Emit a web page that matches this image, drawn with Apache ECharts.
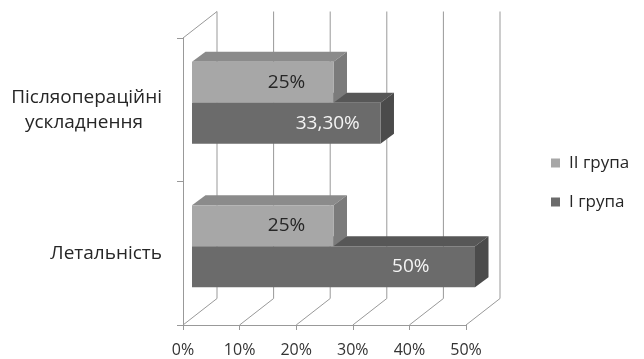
<!DOCTYPE html>
<html>
<head>
<meta charset="utf-8">
<script src="https://cdn.jsdelivr.net/npm/echarts@6/dist/echarts.min.js"></script>
<style>
  html, body { margin: 0; padding: 0; background: #fff; }
  #main { width: 644px; height: 359px; }
</style>
</head>
<body>
<div id="main"></div>
<script>
// categories top to bottom
const categories = ['Післяопераційні ускладнення', 'Летальність'];
const groupII = [25, 25];
const groupI = [33.3, 50];
const labelsII = ['25%', '25%'];
const labelsI = ['33,30%', '50%'];
const xTicks = [0, 10, 20, 30, 40, 50];

const FONT = '"Open Sans", sans-serif';
const GRID = '#999999';
// front, top, side
const LIGHT = ['#a7a7a7', '#8b8b8b', '#7b7b7b'];
const DARK = ['#6b6b6b', '#575757', '#4b4b4b'];
const DEPTH = [34, -26.5];     // back wall offset from front plane
const BAR_OFF = [9, -7];       // bar front face offset
const BAR_DEPTH = [13.5, -10]; // bar thickness

function barRenderer(upper, colors, labels, textColor) {
  return function (params, api) {
    const val = api.value(0), cat = api.value(1);
    const band = Math.abs(api.size([0, 1])[1]);
    const h = band * 0.286;
    const c0 = api.coord([0, cat]);
    const c1 = api.coord([val, cat]);
    const x0 = c0[0] + BAR_OFF[0], x1 = c1[0] + BAR_OFF[0];
    const y0 = c0[1] + BAR_OFF[1] - (upper ? h : 0);
    const y1 = y0 + h;
    const dx = BAR_DEPTH[0], dy = BAR_DEPTH[1];
    const len = x1 - x0;
    const lx = x0 + len * 0.878 - 29.7;
    return {
      type: 'group',
      children: [
        { type: 'polygon', shape: { points: [[x0, y0], [x1, y0], [x1 + dx, y0 + dy], [x0 + dx, y0 + dy]] }, style: { fill: colors[1] } },
        { type: 'polygon', shape: { points: [[x1, y0], [x1 + dx, y0 + dy], [x1 + dx, y1 + dy], [x1, y1]] }, style: { fill: colors[2] } },
        { type: 'rect', shape: { x: x0, y: y0, width: len, height: h }, style: { fill: colors[0] } },
        { type: 'text', x: lx, y: (y0 + y1) / 2, style: { text: labels[params.dataIndex], fill: textColor, font: '19px ' + FONT, textAlign: 'center', textVerticalAlign: 'middle' } }
      ]
    };
  };
}

function frameRenderer(params, api) {
  const v = api.value(0);
  const cs = params.coordSys;
  const x = api.coord([v, 0])[0];
  const top = cs.y, bottom = cs.y + cs.height;
  const children = [{
    type: 'polyline',
    shape: { points: [[x, bottom], [x + DEPTH[0], bottom + DEPTH[1]], [x + DEPTH[0], top + DEPTH[1]]] },
    style: { stroke: GRID, lineWidth: 1, fill: null }
  }];
  if (params.dataIndex === 0) {
    children.push({ type: 'line', shape: { x1: x, y1: top, x2: x + DEPTH[0], y2: top + DEPTH[1] }, style: { stroke: GRID, lineWidth: 1 } });
  }
  return { type: 'group', children: children };
}

const chart = echarts.init(document.getElementById('main'), null, { renderer: 'canvas' });
chart.setOption({
  backgroundColor: '#ffffff',
  animation: false,
  grid: { left: 183, right: 178, top: 38, bottom: 34 },
  legend: {
    orient: 'vertical', left: 546, top: 148,
    icon: 'rect', itemWidth: 9, itemHeight: 9, itemGap: 19,
    data: [
      { name: 'II група', itemStyle: { color: LIGHT[0] } },
      { name: 'I група', itemStyle: { color: DARK[0] } }
    ],
    textStyle: { fontFamily: FONT, fontSize: 17, color: '#262626', lineHeight: 20, padding: [0, 0, 0, 4] }
  },
  xAxis: {
    type: 'value', min: 0, max: 50, interval: 10,
    axisLine: { show: true, lineStyle: { color: GRID } },
    axisTick: { show: true, length: 5, lineStyle: { color: GRID } },
    splitLine: { show: false },
    axisLabel: { formatter: '{value}%', fontFamily: FONT, fontSize: 16, color: '#333', margin: 17 }
  },
  yAxis: {
    type: 'category', inverse: true, data: categories,
    axisLine: { show: true, lineStyle: { color: GRID } },
    axisTick: { show: true, length: 6, lineStyle: { color: GRID } },
    axisLabel: {
      margin: 21,
      formatter: function (v) {
        const parts = v.split(' ');
        return parts.length > 1 ? '{a|' + parts[0] + '}\n{b|' + parts[1] + '}' : '{a|' + v + '}';
      },
      rich: {
        a: { fontFamily: FONT, fontSize: 19, color: '#262626', lineHeight: 25 },
        b: { fontFamily: FONT, fontSize: 19, color: '#262626', lineHeight: 25, padding: [0, 19, 0, 0] }
      }
    }
  },
  series: [
    {
      type: 'custom', name: 'frame', silent: true, z: 1,
      renderItem: frameRenderer,
      encode: { x: 0, y: 1 },
      data: xTicks.map(v => [v, 0])
    },
    {
      type: 'custom', name: 'I група', z: 2,
      itemStyle: { color: DARK[0] },
      renderItem: barRenderer(false, DARK, labelsI, '#f4f4f4'),
      encode: { x: 0, y: 1 },
      data: groupI.map((v, i) => [v, i])
    },
    {
      type: 'custom', name: 'II група', z: 3,
      itemStyle: { color: LIGHT[0] },
      renderItem: barRenderer(true, LIGHT, labelsII, '#262626'),
      encode: { x: 0, y: 1 },
      data: groupII.map((v, i) => [v, i])
    }
  ]
});
</script>
</body>
</html>
